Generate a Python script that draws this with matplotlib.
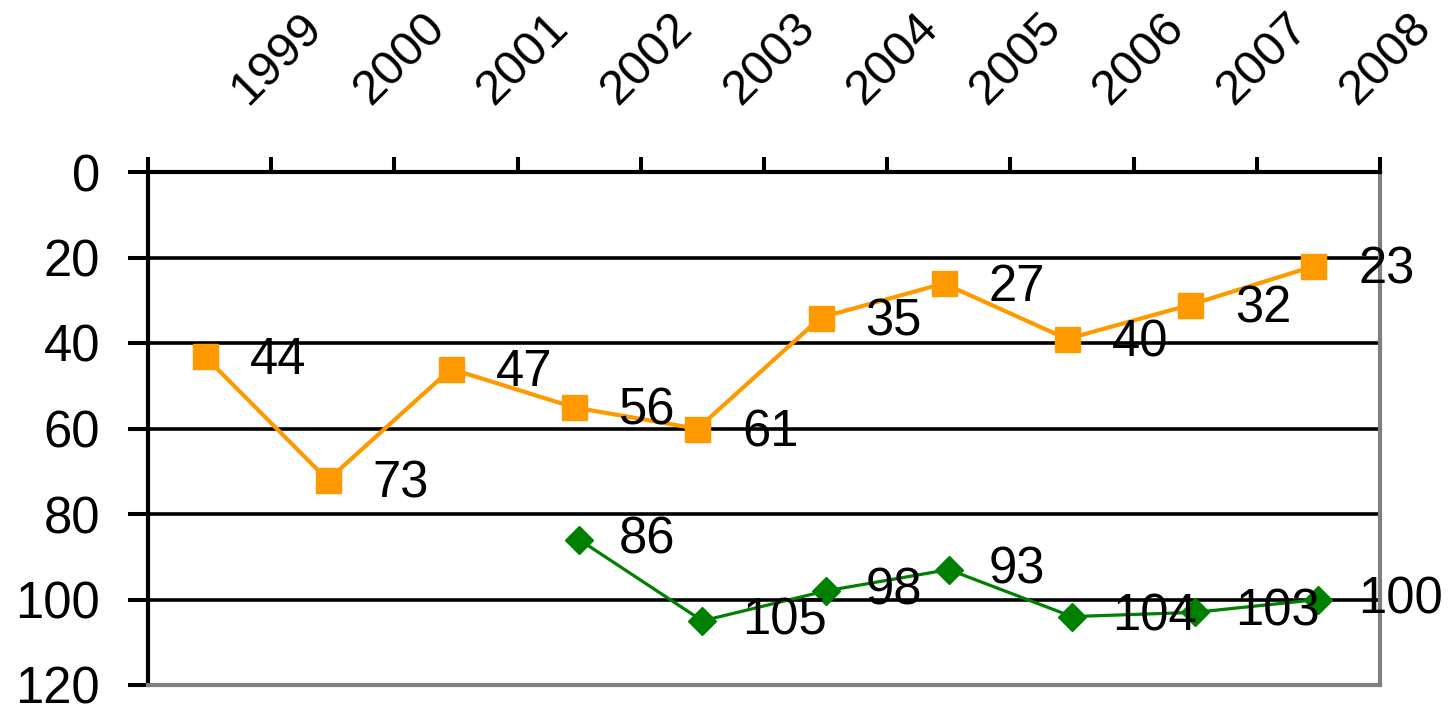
import numpy as np
import matplotlib
matplotlib.use('Agg')
import matplotlib.pyplot as plt
from matplotlib.transforms import offset_copy

years = ['1999', '2000', '2001', '2002', '2003', '2004', '2005', '2006', '2007', '2008']
orange_vals = [44, 73, 47, 56, 61, 35, 27, 40, 32, 23]
green_vals = [np.nan, np.nan, np.nan, 86, 105, 98, 93, 104, 103, 100]
y_ticks = [0, 20, 40, 60, 80, 100, 120]

ORANGE = '#FF9900'
GREEN = '#008000'

plt.rcParams['font.family'] = ['Liberation Sans', 'DejaVu Sans']

W, H = 1448, 704
fig = plt.figure(figsize=(W / 100, H / 100), dpi=100)
ax = fig.add_axes([148 / W, 1 - 685 / H, (1380 - 148) / W, (685 - 172) / H])

x = np.arange(len(years))
ax.set_xlim(-0.5, len(years) - 0.5)
ax.set_ylim(120, 0)

# series
tr_orange = offset_copy(ax.transData, fig=fig, x=-5, y=4, units='dots')
ax.plot(x, orange_vals, color=ORANGE, lw=3.0, marker='s', ms=18,
        mfc=ORANGE, mec=ORANGE, transform=tr_orange, zorder=3)
ax.plot(x, green_vals, color=GREEN, lw=2.3, marker='D', ms=14.5,
        mfc=GREEN, mec=GREEN, zorder=3)

# data labels
LAB_FS = 36.5
tr_lab = offset_copy(ax.transData, fig=fig, x=40, y=0, units='dots')
for xi, v in zip(x, orange_vals):
    ax.text(xi, v, str(v), transform=tr_lab, ha='left', va='center',
            fontsize=LAB_FS, color='black', zorder=4)
for xi, v in zip(x, green_vals):
    if np.isnan(v):
        continue
    ax.text(xi, v, str(int(v)), transform=tr_lab, ha='left', va='center',
            fontsize=LAB_FS, color='black', zorder=4)

# x axis on top: tick marks at category boundaries, rotated year labels
ax.xaxis.tick_top()
ax.set_xticks(np.arange(-0.5, len(years), 1.0))
ax.set_xticklabels([])
ax.tick_params(axis='x', length=10.8, width=2.9, direction='out', color='black')
tr_year = offset_copy(ax.get_xaxis_transform(), fig=fig, x=38, y=66, units='dots')
for xi, yr in zip(x, years):
    ax.text(xi, 1.0, yr, transform=tr_year, rotation=45, rotation_mode='anchor',
            ha='left', va='baseline', fontsize=35, color='black')

# y axis
ax.set_yticks(y_ticks)
ax.set_yticklabels([str(t) for t in y_ticks])
ax.tick_params(axis='y', length=14.4, width=2.9, pad=20, labelsize=LAB_FS,
               direction='out', color='black', left=True, right=False)

# grid and spines
ax.set_axisbelow(True)
ax.yaxis.grid(True, color='black', lw=2.6)
ax.xaxis.grid(False)
for s in ['left', 'top']:
    ax.spines[s].set_color('black')
    ax.spines[s].set_linewidth(3)
for s in ['right', 'bottom']:
    ax.spines[s].set_color('#808080')
    ax.spines[s].set_linewidth(3)

fig.savefig('out.png', dpi=100)
